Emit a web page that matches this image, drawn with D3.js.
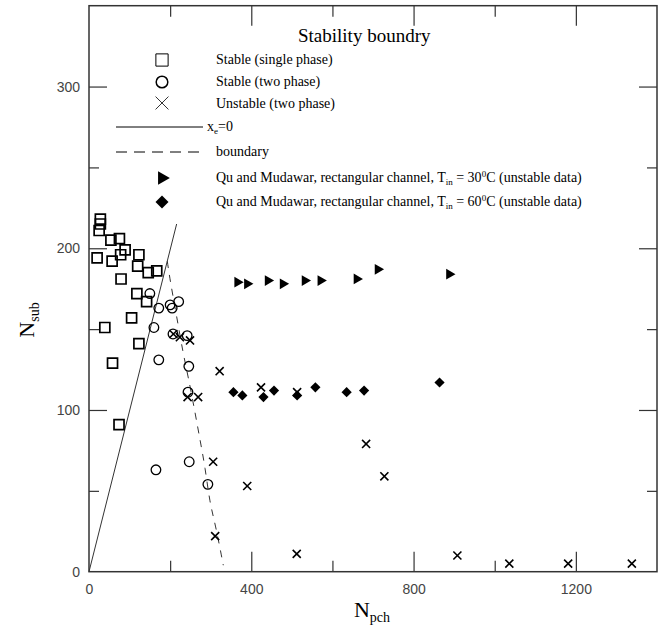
<!DOCTYPE html>
<html>
<head>
<meta charset="utf-8">
<script src="https://cdn.jsdelivr.net/npm/d3@7"></script>
<style>
  body { margin: 0; background: #fff; }
  .serif { font-family: "Liberation Serif", "Times New Roman", serif; }
  .tick text { font-family: "Liberation Sans", Arial, sans-serif; font-size: 14px; fill: #444; }
</style>
</head>
<body>
<div id="chart"></div>
<script>
// values: [N_pch, N_sub]
var stableSingle = [[28,218],[28,215],[25,211],[54,205],[75,206],[89,199],[78,196],[20,194],
    [57,192],[123,196],[120,189],[146,185],[167,186],[79,181],[118,172],[142,167],
    [105,157],[39,151],[123,141],[58,129],[74,91]];
var stableTwo = [[150,172],[172,163],[200,165],[205,163],[221,167],[160,151],[207,147],
    [242,146],[246,127],[244,111],[172,131],[165,63],[247,68],[293,54]];
var unstableTwo = [[208,147],[224,145],[249,143],[322,124],[243,108],[269,108],[424,114],
    [513,111],[306,68],[390,53],[683,79],[728,59],[311,22],[512,11],[908,10],[1036,5],
    [1181,5],[1338,5]];
var quMudawar30 = [[366,179],[390,178],[441,180],[478,178],[532,180],[571,180],[660,181],
    [712,187],[888,184]];
var quMudawar60 = [[356,111],[378,109],[430,108],[456,112],[513,109],[558,114],[635,111],
    [678,112],[864,117]];
var xeZero = [[0,0],[216,215]];
var boundary = [[193,192],[200,180],[216,158],[232,135],[245,120],[261,99],[274,81],
    [286,65],[298,42],[311,30],[331,4]];
var xMajor = [400,800,1200], xMinor = [200,600,1000], xLabels = [0,400,800,1200];
var yMajor = [100,200,300], yMinor = [50,150,250], yLabels = [0,100,200,300];

var W = 664, H = 637;
var plot = {left: 89, right: 657, top: 5.7, bottom: 571.7};

var svg = d3.select("#chart").append("svg")
    .attr("width", W)
    .attr("height", H);

var x = d3.scaleLinear().domain([0,1400]).range([plot.left, plot.right]);
var y = d3.scaleLinear().domain([0,350]).range([plot.bottom, plot.top]);

// ticks on all four sides, pointing inward
function ticks(axisFn, scale, vals, len, tx, ty) {
    svg.append("g")
        .attr("transform", "translate(" + tx + "," + ty + ")")
        .call(axisFn(scale).tickValues(vals).tickSize(len).tickFormat(""))
        .call(function(g){ g.select(".domain").remove(); })
        .selectAll("line").attr("stroke", "#333").attr("stroke-width", 1.2);
}
ticks(d3.axisBottom, x, xMajor, -20, 0, plot.bottom);
ticks(d3.axisBottom, x, xMinor, -11, 0, plot.bottom);
ticks(d3.axisTop, x, xMajor, -20, 0, plot.top);
ticks(d3.axisTop, x, xMinor, -11, 0, plot.top);
ticks(d3.axisLeft, y, yMajor, -18, plot.left, 0);
ticks(d3.axisLeft, y, yMinor, -10, plot.left, 0);
ticks(d3.axisRight, y, yMajor, -18, plot.right, 0);
ticks(d3.axisRight, y, yMinor, -10, plot.right, 0);

// tick labels
svg.append("g")
    .attr("transform", "translate(0," + plot.bottom + ")")
    .call(d3.axisBottom(x).tickValues(xLabels).tickFormat(d3.format("d")).tickSize(0).tickPadding(12))
    .call(function(g){ g.select(".domain").remove(); });
svg.append("g")
    .attr("transform", "translate(" + plot.left + ",0)")
    .call(d3.axisLeft(y).tickValues(yLabels).tickFormat(d3.format("d")).tickSize(0).tickPadding(9))
    .call(function(g){ g.select(".domain").remove(); });

// frame
svg.append("rect")
    .attr("x", plot.left).attr("y", plot.top)
    .attr("width", plot.right - plot.left).attr("height", plot.bottom - plot.top)
    .attr("fill", "none").attr("stroke", "#333").attr("stroke-width", 1.5);

// axis titles
var xt = svg.append("text").attr("class", "serif")
    .attr("x", 372).attr("y", 617).attr("text-anchor", "middle")
    .style("font-size", "22px");
xt.append("tspan").text("N");
xt.append("tspan").attr("dy", 5).style("font-size", "14px").text("pch");

var yt = svg.append("text").attr("class", "serif")
    .attr("transform", "translate(34,320) rotate(-90)")
    .attr("text-anchor", "middle")
    .style("font-size", "22px");
yt.append("tspan").text("N");
yt.append("tspan").attr("dy", 5).style("font-size", "14px").text("sub");

// lines
var line = d3.line().x(function(d){ return x(d[0]); }).y(function(d){ return y(d[1]); });
svg.append("path").datum(xeZero).attr("d", line)
    .attr("fill", "none").attr("stroke", "#333").attr("stroke-width", 1);
svg.append("path").datum(boundary).attr("d", line.curve(d3.curveBasis))
    .attr("fill", "none").attr("stroke", "#333").attr("stroke-width", 1)
    .attr("stroke-dasharray", "7,7");

// markers
var sq = d3.symbol().type(d3.symbolSquare).size(100);
var tri = d3.symbol().type(d3.symbolTriangle).size(50);
var dia = d3.symbol().type(d3.symbolSquare).size(52);
var cross = d3.symbol().type(d3.symbolTimes).size(44);

function pos(d){ return "translate(" + x(d[0]) + "," + y(d[1]) + ")"; }

svg.append("g").selectAll("path").data(stableSingle).join("path")
    .attr("d", sq).attr("transform", pos)
    .attr("fill", "none").attr("stroke", "#000").attr("stroke-width", 1.7);
svg.append("g").selectAll("circle").data(stableTwo).join("circle")
    .attr("cx", function(d){ return x(d[0]); }).attr("cy", function(d){ return y(d[1]); })
    .attr("r", 4.8)
    .attr("fill", "none").attr("stroke", "#000").attr("stroke-width", 1.3);
svg.append("g").selectAll("path").data(unstableTwo).join("path")
    .attr("d", cross).attr("transform", pos)
    .attr("fill", "none").attr("stroke", "#000").attr("stroke-width", 1.6);
svg.append("g").selectAll("path").data(quMudawar30).join("path")
    .attr("d", tri).attr("transform", function(d){ return pos(d) + " rotate(90)"; })
    .attr("fill", "#000");
svg.append("g").selectAll("path").data(quMudawar60).join("path")
    .attr("d", dia).attr("transform", function(d){ return pos(d) + " rotate(45)"; })
    .attr("fill", "#000");

// title and legend
svg.append("text").attr("class", "serif")
    .attr("x", 298).attr("y", 42)
    .style("font-size", "19px")
    .text("Stability boundry");

var lx = 162, tx = 216;
var leg = svg.append("g").attr("class", "serif").style("font-size", "14px");

leg.append("path").attr("d", d3.symbol().type(d3.symbolSquare).size(150)())
    .attr("transform", "translate(" + lx + ",60)")
    .attr("fill", "none").attr("stroke", "#000").attr("stroke-width", 1);
leg.append("text").attr("x", tx).attr("y", 64).text("Stable (single phase)");

leg.append("circle").attr("cx", lx).attr("cy", 82).attr("r", 5.8)
    .attr("fill", "none").attr("stroke", "#000").attr("stroke-width", 1.5);
leg.append("text").attr("x", tx).attr("y", 86).text("Stable (two phase)");

leg.append("path").attr("d", d3.symbol().type(d3.symbolTimes).size(110)())
    .attr("transform", "translate(" + lx + ",103)")
    .attr("fill", "none").attr("stroke", "#000").attr("stroke-width", 0.8);
leg.append("text").attr("x", tx).attr("y", 108).text("Unstable (two phase)");

leg.append("line").attr("x1", 116).attr("x2", 203).attr("y1", 127).attr("y2", 127)
    .attr("stroke", "#000").attr("stroke-width", 1);
var t4 = leg.append("text").attr("x", 207).attr("y", 131);
t4.append("tspan").text("x");
t4.append("tspan").attr("dy", 3).style("font-size", "9px").text("e");
t4.append("tspan").attr("dy", -3).text("=0");

leg.append("line").attr("x1", 116).attr("x2", 203).attr("y1", 152).attr("y2", 152)
    .attr("stroke", "#000").attr("stroke-width", 1).attr("stroke-dasharray", "11,7");
leg.append("text").attr("x", tx).attr("y", 156).text("boundary");

leg.append("path").attr("d", d3.symbol().type(d3.symbolTriangle).size(80)())
    .attr("transform", "translate(" + lx + ",178) rotate(90)")
    .attr("fill", "#000");
leg.append("path").attr("d", d3.symbol().type(d3.symbolSquare).size(85)())
    .attr("transform", "translate(" + lx + ",202) rotate(45)")
    .attr("fill", "#000");

function quText(yy, temp) {
    var t = leg.append("text").attr("x", tx).attr("y", yy);
    t.append("tspan").text("Qu and Mudawar, rectangular channel, T");
    t.append("tspan").attr("dy", 3).style("font-size", "9px").text("in");
    t.append("tspan").attr("dy", -3).text(" = " + temp);
    t.append("tspan").attr("dy", -5).style("font-size", "9px").text("0");
    t.append("tspan").attr("dy", 5).text("C (unstable data)");
}
quText(182, "30");
quText(206, "60");
</script>
</body>
</html>
